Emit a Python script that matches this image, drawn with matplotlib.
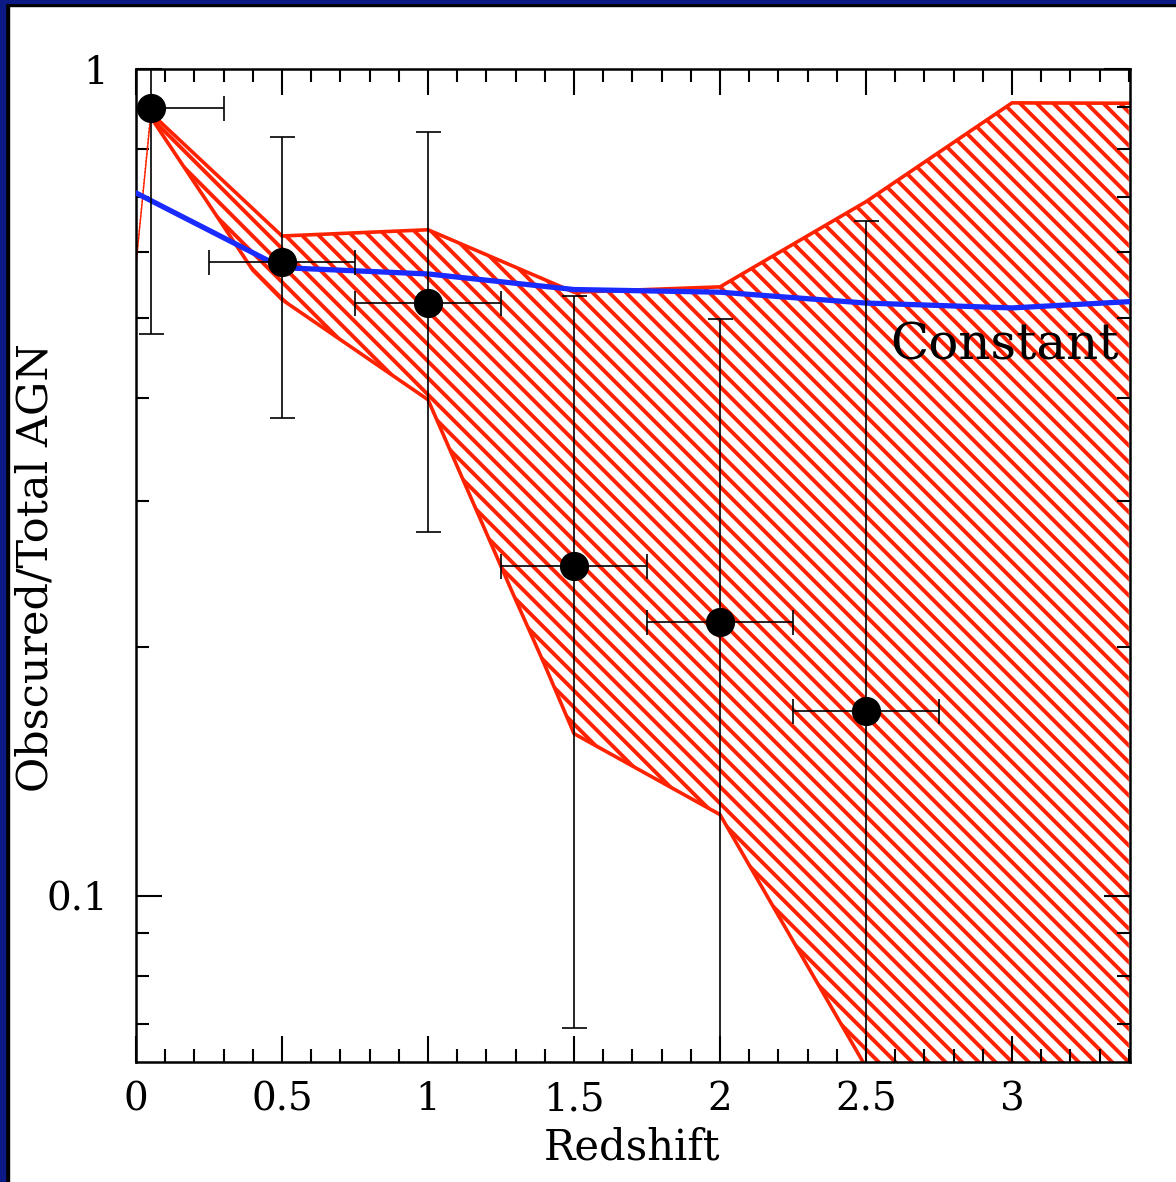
import numpy as np
import matplotlib
matplotlib.use("Agg")
import matplotlib.pyplot as plt
from matplotlib.patches import Rectangle
from matplotlib.ticker import FixedLocator, NullFormatter

# ---- data ----
pt_z = [0.05, 0.5, 1.0, 1.5, 2.0, 2.5]
pt_f = [0.897, 0.584, 0.521, 0.2506, 0.2145, 0.167]
pt_f_hi = [1.2, 0.828, 0.839, 0.531, 0.498, 0.655]
pt_f_lo = [0.478, 0.378, 0.275, 0.0692, 0.03, 0.03]
pt_z_lo = [0.0, 0.25, 0.75, 1.25, 1.75, 2.25]
pt_z_hi = [0.30, 0.75, 1.25, 1.75, 2.25, 2.75]

upper_z = [0.0, 0.05, 0.5, 1.0, 1.5, 2.0, 2.5, 3.0, 3.4]
upper_f = [0.58, 0.885, 0.628, 0.639, 0.537, 0.545, 0.691, 0.910, 0.909]
lower_z = [0.0, 0.05, 0.4, 0.5, 1.0, 1.3, 1.4, 1.5, 2.0, 2.5, 3.0, 3.4]
lower_f = [0.58, 0.875, 0.571, 0.526, 0.398, 0.228, 0.190, 0.157, 0.1253, 0.062, 0.05, 0.05]

const_z = [0.0, 0.5, 1.0, 1.5, 2.0, 2.5, 3.0, 3.4]
const_f = [0.708, 0.575, 0.565, 0.541, 0.537, 0.521, 0.514, 0.523]

xticks = [0, 0.5, 1, 1.5, 2, 2.5, 3]
xtick_labels = ["0", "0.5", "1", "1.5", "2", "2.5", "3"]
yticks = [0.1, 1]
ytick_labels = ["0.1", "1"]

plt.rcParams["font.family"] = ["DejaVu Serif"]
plt.rcParams["hatch.linewidth"] = 2.8

fig = plt.figure(figsize=(11.76, 11.82), dpi=100)
fig.patch.set_facecolor("white")

# frame borders (left and top)
W, H = 1176.0, 1182.0
fig.patches.append(Rectangle((0, 0), 9 / W, 1, transform=fig.transFigure, color="black", zorder=0))
fig.patches.append(Rectangle((0, 1 - 6 / H), 1, 6 / H, transform=fig.transFigure, color="black", zorder=0))
fig.patches.append(Rectangle((0, 0), 5 / W, 1, transform=fig.transFigure, color="#0b1a85", zorder=1))
fig.patches.append(Rectangle((0, 1 - 3 / H), 1, 3 / H, transform=fig.transFigure, color="#0b1a85", zorder=1))

ax = fig.add_axes([136 / W, 1 - 1062 / H, (1130 - 136) / W, (1062 - 69) / H])
ax.set_yscale("log")
ax.set_xlim(0, 3.404)
ax.set_ylim(0.0629, 1.0)

red = "#ff2200"
poly_z = list(upper_z) + list(lower_z[::-1])
poly_f = list(upper_f) + list(lower_f[::-1])
ax.fill(poly_z, poly_f, facecolor="none", edgecolor=red, hatch="\\\\", linewidth=0, zorder=1)
ax.plot(upper_z[1:], upper_f[1:], color=red, lw=2.6, zorder=2)
ax.plot(lower_z[1:], lower_f[1:], color=red, lw=2.6, zorder=2)
ax.plot(upper_z[:2], upper_f[:2], color=red, lw=1.0, ls=":", zorder=2)
ax.plot(lower_z[:2], lower_f[:2], color=red, lw=1.0, zorder=2)

ax.plot(const_z, const_f, color="#1a2bff", lw=3.8, zorder=3)

yerr = [np.array(pt_f) - np.array(pt_f_lo), np.array(pt_f_hi) - np.array(pt_f)]
xerr = [np.array(pt_z) - np.array(pt_z_lo), np.array(pt_z_hi) - np.array(pt_z)]
ax.errorbar(pt_z, pt_f, xerr=xerr, yerr=yerr, fmt="o", color="black",
            ms=20, ecolor="black", elinewidth=1.2, capsize=9, capthick=1.2, zorder=4)

ax.text(3.365, 0.445, "Constant", fontsize=36, ha="right", va="baseline", zorder=5)

# ticks
ax.xaxis.set_major_locator(FixedLocator(xticks))
ax.xaxis.set_minor_locator(FixedLocator(np.round(np.arange(0, 3.41, 0.1), 2)))
ax.set_xticklabels(xtick_labels)
ax.yaxis.set_major_locator(FixedLocator(yticks))
minor_y = [m * d for d in (0.01, 0.1) for m in range(2, 10)]
ax.yaxis.set_minor_locator(FixedLocator(minor_y))
ax.yaxis.set_minor_formatter(NullFormatter())
ax.set_yticklabels(ytick_labels)

ax.tick_params(which="both", direction="in", top=True, right=True, width=1.5, colors="black")
ax.tick_params(which="major", length=18.5)
ax.tick_params(which="minor", length=9.5)
ax.tick_params(axis="x", which="major", labelsize=28, pad=14)
ax.tick_params(axis="y", which="major", labelsize=28, pad=20)
for s in ax.spines.values():
    s.set_linewidth(1.8)

fig.text(632 / W, 1 - 1148 / H, "Redshift", fontsize=30, ha="center", va="center")
fig.text(36 / W, 1 - 568 / H, "Obscured/Total AGN", fontsize=31, ha="center", va="center", rotation=90)

fig.savefig("out.png", dpi=100)
